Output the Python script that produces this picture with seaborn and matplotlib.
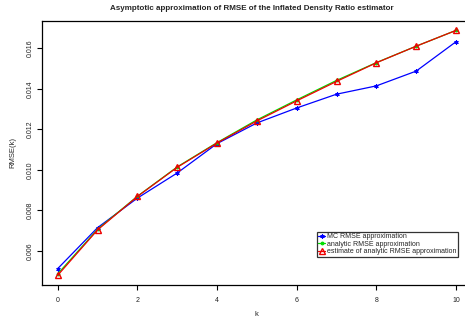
import numpy as np
import pandas as pd
import matplotlib
matplotlib.use("Agg")
import matplotlib.pyplot as plt
import seaborn as sns

k = [0, 1, 2, 3, 4, 5, 6, 7, 8, 9, 10]
mc_rmse = [0.00513, 0.00715, 0.00861, 0.00985, 0.01130, 0.01232, 0.01306, 0.01374, 0.01415, 0.01488, 0.01633]
analytic_rmse = [0.00487, 0.00707, 0.00870, 0.01015, 0.01135, 0.01247, 0.01346, 0.01442, 0.01530, 0.01611, 0.01689]
estimate_rmse = [0.00480, 0.00704, 0.00869, 0.01013, 0.01133, 0.01242, 0.01341, 0.01437, 0.01529, 0.01611, 0.01689]
labels = ["MC RMSE approximation", "analytic RMSE approximation",
          "estimate of analytic RMSE approximation"]

sns.set_style("ticks")
plt.rcParams['font.family'] = ['Liberation Sans', 'DejaVu Sans']

fig = plt.figure(figsize=(4.65, 3.2), dpi=100)
ax = fig.add_axes([0.0899, 0.1094, 0.925, 0.826])

sns.lineplot(x=k, y=mc_rmse, ax=ax, color="#0000FF", lw=0.9, marker=(6, 2, 0),
             markersize=3, markeredgecolor="#0000FF", markeredgewidth=0.8, label=labels[0])
sns.lineplot(x=k, y=analytic_rmse, ax=ax, color="#00DD00", lw=0.9, marker="o",
             markersize=2, markeredgecolor="#00DD00", label=labels[1])
sns.lineplot(x=k, y=estimate_rmse, ax=ax, color="#EE0000", lw=0.9, marker="^",
             markersize=3.8, fillstyle="none", markeredgecolor="#EE0000",
             markeredgewidth=1.0, label=labels[2])

ax.set_xlim(-0.4, 10.4)
ax.set_ylim(0.00432, 0.01737)
ax.set_xticks([0, 2, 4, 6, 8, 10])
ax.set_yticks([0.006, 0.008, 0.010, 0.012, 0.014, 0.016])
ax.set_yticklabels(["0.006", "0.008", "0.010", "0.012", "0.014", "0.016"],
                   rotation=90, va="center")
ax.tick_params(axis="both", labelsize=5, length=3.5, width=0.8, color="black",
               labelcolor="#222222")
ax.tick_params(axis="x", pad=5)
ax.tick_params(axis="y", pad=2.5)
for s in ax.spines.values():
    s.set_visible(True)
    s.set_color("black")
    s.set_linewidth(0.9)

ax.set_xlabel("k", fontsize=5.5)
ax.set_ylabel("RMSE(k)", fontsize=5.5)
ax.xaxis.set_label_coords(0.5, -0.098)
ax.yaxis.set_label_coords(-0.0588, 0.5)
fig.suptitle("Asymptotic approximation of RMSE of the Inflated Density Ratio estimator",
             fontsize=5.8, fontweight="bold", x=0.542, y=0.985)

leg = ax.legend(loc="lower left", fontsize=5, frameon=True,
                fancybox=False, handlelength=0.9, handletextpad=0.3,
                labelspacing=0.05, borderpad=0.25, borderaxespad=0)
leg.get_frame().set_edgecolor("black")
leg.get_frame().set_linewidth(0.9)
leg.set_bbox_to_anchor((316.7 / 465, (320 - 256.7) / 320), transform=fig.transFigure)

fig.savefig("out.png", dpi=100)
